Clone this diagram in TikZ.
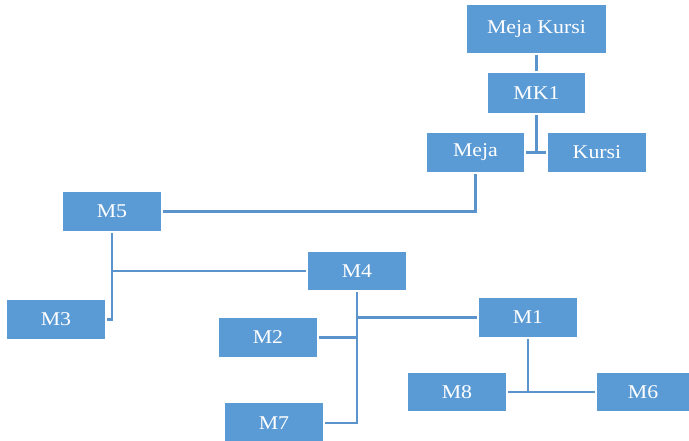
\documentclass[tikz,border=0pt]{standalone}
\usepackage{fontspec}
\setmainfont{Liberation Serif}[FakeStretch=1.12]
\definecolor{boxblue}{HTML}{5B9BD5}
\definecolor{lineblue}{HTML}{5B94CD}
\begin{document}
\begin{tikzpicture}[x=1pt,y=-1pt,
  mbox/.style={fill=boxblue,draw=none,text=white,minimum width=98pt,minimum height=39pt,inner sep=0pt,font=\fontsize{19.5}{22}\selectfont},
  conn/.style={draw=lineblue,line width=2.2pt,shorten <=2pt,shorten >=2pt}]
\useasboundingbox (0,0) rectangle (689,441);
\node[mbox,minimum width=139pt,minimum height=48pt] (mk) at (536.5,29) {Meja Kursi};
\node[mbox,minimum width=97pt,minimum height=40pt] (mk1) at (536.5,93) {MK1};
\node[mbox,minimum width=97pt] (meja) at (475.5,152.5) {Meja};
\node[mbox] (kursi) at (597,152.5) {Kursi};
\node[mbox] (m5) at (112,211.5) {M5};
\node[mbox,minimum height=38pt] (m4) at (357,271) {M4};
\node[mbox] (m3) at (56,319.5) {M3};
\node[mbox] (m2) at (268,337.5) {M2};
\node[mbox] (m1) at (528,317.5) {M1};
\node[mbox,minimum height=38pt] (m8) at (457,392) {M8};
\node[mbox,minimum width=92pt,minimum height=38pt] (m6) at (643,392) {M6};
\node[mbox,minimum height=40pt] (m7) at (274,423) {M7};
\coordinate (j1) at (mk1.south |- meja.east);
\coordinate (j5) at (m5.south |- m4.west);
\coordinate (j4) at (m4.south |- m1.west);
\coordinate (j2) at (m4.south |- m2.east);
\coordinate (j8) at (m1.south |- m8.east);
\draw[conn] (mk.south) -- (mk1.north);
\draw[conn,shorten >=0pt] (mk1.south) -- (j1);
\draw[conn] (meja.east) -- (kursi.west);
\draw[conn] (meja.south) |- (m5.east);
\draw[conn] (m5.south) |- (m3.east);
\draw[conn,shorten <=0pt] (j5) -- (m4.west);
\draw[conn] (m4.south) |- (m7.east);
\draw[conn,shorten <=0pt] (j4) -- (m1.west);
\draw[conn,shorten >=0pt] (m2.east) -- (j2);
\draw[conn,shorten >=0pt] (m1.south) -- (j8);
\draw[conn] (m8.east) -- (m6.west);
\end{tikzpicture}
\end{document}
